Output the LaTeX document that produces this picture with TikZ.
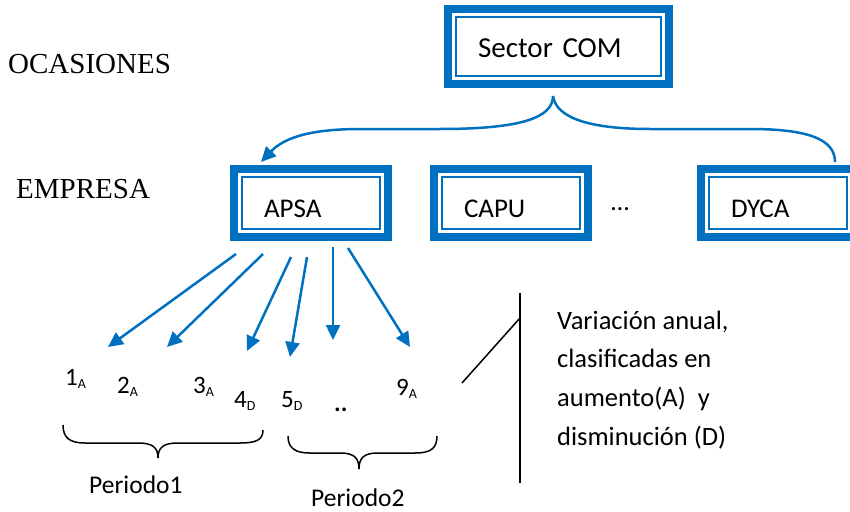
\documentclass[tikz,border=0pt]{standalone}
\usepackage{fontspec}
\setmainfont{Carlito}
\newfontfamily\timesf{Liberation Serif}
\usetikzlibrary{arrows.meta}
\definecolor{cblue}{RGB}{0,112,192}
\begin{document}
\begin{tikzpicture}[x=1pt,y=-1pt,
  dbox/.style={draw=cblue, line width=8pt, outer sep=0pt, inner xsep=30pt, inner ysep=0pt,
    align=left, text height=28pt, text depth=0pt, font=\fontsize{27}{32}\selectfont,
    minimum height=68pt, minimum width=154pt, text width=94pt},
  innerline/.style={draw=cblue, line width=2.5pt},
  barrow/.style={draw=cblue, line width=2.5pt, -{Triangle[length=15pt,width=14pt]}},
  bline/.style={draw=cblue, line width=2.5pt},
  kline/.style={draw=black, line width=1.5pt},
  lvl/.style={anchor=base west, inner sep=0pt, font=\timesf\fontsize{29}{34}\selectfont},
  num/.style={anchor=base west, inner sep=0pt, font=\fontsize{25}{29}\selectfont},
  txt/.style={anchor=base west, inner sep=0pt, font=\fontsize{25.5}{30}\selectfont},
]
\useasboundingbox (0,0) rectangle (850,511);

% level labels
\node[lvl] (ocas) at (8,73) {OCASIONES};
\node[lvl] (empr) at (16,198) {EMPRESA};

% boxes
\node[dbox, minimum width=221pt, minimum height=75pt, text width=161pt, text height=21pt,
      font=\fontsize{29}{34}\selectfont] (sec) at (558.5,46.5) {Sector COM};
\node[dbox] (apsa) at (311,203) {APSA};
\node[dbox] (capu) at (511,203) {CAPU};
\node[dbox] (dyca) at (778,203) {DYCA};
\foreach \b in {sec,apsa,capu,dyca}
  \draw[innerline] ([shift={(8,8)}]\b.north west) rectangle ([shift={(-8,-8)}]\b.south east);

\node[anchor=base west, inner sep=0pt, font=\fontsize{26}{30}\selectfont] (dots) at (611,210) {…};

% connector from Sector COM
\coordinate (cs) at (553,96);
\coordinate (ta) at (261,162);
\coordinate (td) at (835,162);
\draw[barrow] (cs) .. controls (553,118) and (520,129) .. (440,129) -- (360,129)
  .. controls (300,129) and (280,142) .. (ta);
\draw[bline] (cs) .. controls (556,118) and (590,129) .. (650,129) -- (750,129)
  .. controls (810,129) and (835,140) .. (td);

% yearly labels
\node[num] (n1) at (65,385) {1\raisebox{-3pt}{\fontsize{14}{14}\selectfont A}};
\node[num] (n2) at (117,393) {2\raisebox{-3pt}{\fontsize{14}{14}\selectfont A}};
\node[num] (n3) at (193,393) {3\raisebox{-3pt}{\fontsize{14}{14}\selectfont A}};
\node[num] (n4) at (234,407) {4\raisebox{-3pt}{\fontsize{14}{14}\selectfont D}};
\node[num] (n5) at (281,407) {5\raisebox{-3pt}{\fontsize{14}{14}\selectfont D}};
\node[num] (nd) at (334,411) {\textbf{..}};
\node[num] (n9) at (396,395) {9\raisebox{-3pt}{\fontsize{14}{14}\selectfont A}};

% arrows from APSA
\coordinate (s1) at (236,254); \coordinate (e1) at (108,347);
\coordinate (s2) at (263,254); \coordinate (e2) at (167,347);
\coordinate (s3) at (291,257); \coordinate (e3) at (247,351);
\coordinate (s4) at (307,257); \coordinate (e4) at (290,357);
\coordinate (s5) at (333,247); \coordinate (e5) at (333,340);
\coordinate (s6) at (348,248); \coordinate (e6) at (410,347);
\foreach \i in {1,...,6} \draw[barrow] (s\i) -- (e\i);

% braces
\draw[kline] (63,425) .. controls (63,438) and (70,443) .. (85,443) -- (138,443)
  .. controls (152,443) and (158,447) .. (158,458)
  .. controls (158,447) and (164,443) .. (178,443) -- (240,443)
  .. controls (256,443) and (263,440) .. (263,430);
\draw[kline] (288,436) .. controls (288,448) and (295,453) .. (310,453) -- (340,453)
  .. controls (353,453) and (359,457) .. (359,469)
  .. controls (359,457) and (365,453) .. (378,453) -- (415,453)
  .. controls (430,453) and (437,449) .. (437,436);
\node[txt] (p1) at (89,493) {Periodo1};
\node[txt] (p2) at (311,506) {Periodo2};

% note
\coordinate (vt) at (520,293);
\coordinate (vb) at (520,483);
\coordinate (dj) at (520,318);
\coordinate (dl) at (462,383);
\draw[kline] (vt) -- (vb);
\draw[kline] (dl) -- (dj);
\node[anchor=base west, inner sep=0pt, align=left, font=\fontsize{26.5}{38.6}\selectfont] (note) at (557,445)
  {Variación anual,\\clasificadas en\\aumento(A)\ \ y\\disminución (D)};
\end{tikzpicture}
\end{document}
